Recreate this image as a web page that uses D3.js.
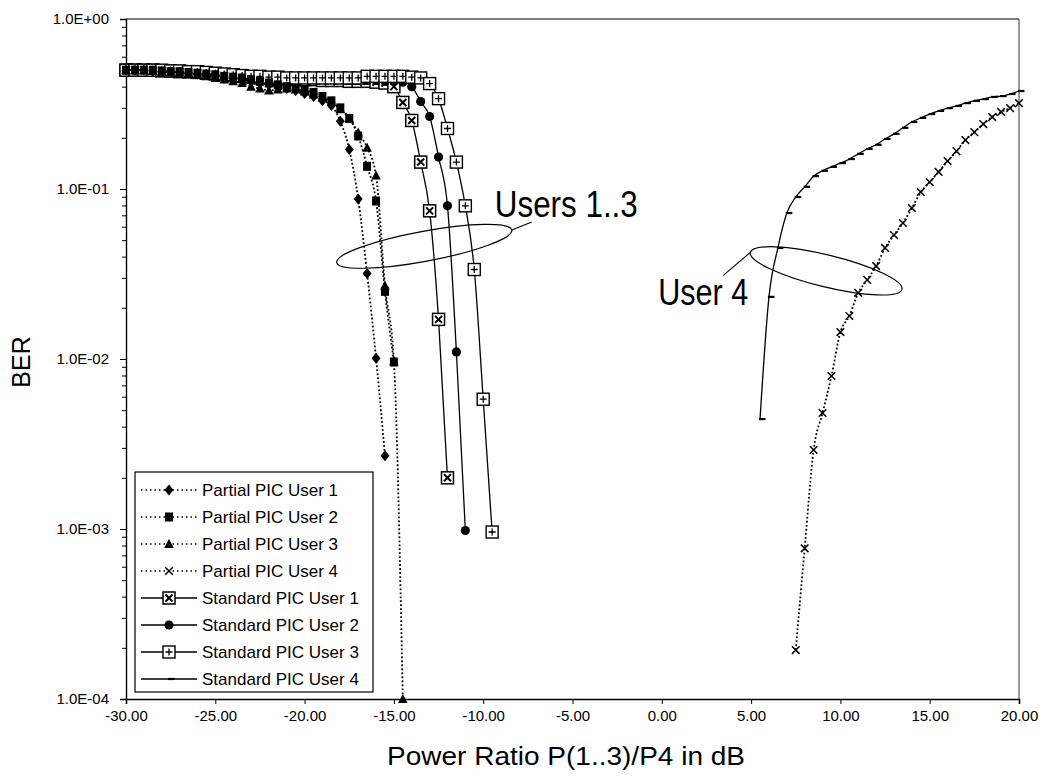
<!DOCTYPE html>
<html>
<head>
<meta charset="utf-8">
<script src="https://cdn.jsdelivr.net/npm/d3@7"></script>
<style>
  html, body { margin: 0; padding: 0; background: #fff; }
  svg { display: block; }
</style>
</head>
<body>
<svg id="chart" width="1046" height="779"></svg>
<script>
// ---------------- data ----------------
const xTicks = [-30, -25, -20, -15, -10, -5, 0, 5, 10, 15, 20];
const xTickLabels = ["-30.00", "-25.00", "-20.00", "-15.00", "-10.00", "-5.00", "0.00", "5.00", "10.00", "15.00", "20.00"];
const yTicks = [1, 0.1, 0.01, 0.001, 0.0001];
const yTickLabels = ["1.0E+00", "1.0E-01", "1.0E-02", "1.0E-03", "1.0E-04"];

const seriesNames = [
  "Partial PIC User 1", "Partial PIC User 2", "Partial PIC User 3", "Partial PIC User 4",
  "Standard PIC User 1", "Standard PIC User 2", "Standard PIC User 3", "Standard PIC User 4"
];

// Partial PIC, users 1..3 (BER vs power ratio in dB)
const partial1X = [-30, -29.5, -29, -28.5, -28, -27.5, -27, -26.5, -26, -25.5, -25, -24.5, -24, -23.5, -23, -22.5, -22, -21.5, -21, -20.5, -20, -19.5, -19, -18.5, -18, -17.5, -17, -16.5, -16, -15.5];
const partial1BER = [0.50, 0.50, 0.50, 0.495, 0.49, 0.49, 0.485, 0.48, 0.475, 0.47, 0.465, 0.455, 0.45, 0.44, 0.43, 0.42, 0.41, 0.40, 0.39, 0.38, 0.365, 0.35, 0.33, 0.31, 0.25, 0.171, 0.0874, 0.0318, 0.0101, 0.0027];

const partial2X = [-30, -29.5, -29, -28.5, -28, -27.5, -27, -26.5, -26, -25.5, -25, -24.5, -24, -23.5, -23, -22.5, -22, -21.5, -21, -20.5, -20, -19.5, -19, -18.5, -18, -17.5, -17, -16.5, -16, -15.5, -15];
const partial2BER = [0.50, 0.50, 0.50, 0.50, 0.495, 0.49, 0.49, 0.485, 0.48, 0.475, 0.47, 0.46, 0.455, 0.45, 0.44, 0.43, 0.42, 0.41, 0.40, 0.39, 0.38, 0.37, 0.35, 0.33, 0.30, 0.26, 0.205, 0.136, 0.085, 0.025, 0.0096];

const partial3X = [-30, -29.5, -29, -28.5, -28, -27.5, -27, -26.5, -26, -25.5, -25, -24.5, -24, -23.5, -23, -22.5, -22, -21.5, -21, -20.5, -20, -19.5, -19, -18.5, -18, -17.5, -17, -16.5, -16, -15.5, -15, -14.5];
const partial3BER = [0.50, 0.50, 0.50, 0.495, 0.49, 0.49, 0.485, 0.48, 0.47, 0.46, 0.45, 0.44, 0.43, 0.42, 0.40, 0.39, 0.38, 0.385, 0.39, 0.385, 0.375, 0.36, 0.345, 0.325, 0.295, 0.26, 0.215, 0.175, 0.12, 0.027, 0.0097, 0.0001];

// Partial PIC, user 4
const partial4X = [7.5, 8, 8.5, 9, 9.5, 10, 10.5, 11, 11.5, 12, 12.5, 13, 13.5, 14, 14.5, 15, 15.5, 16, 16.5, 17, 17.5, 18, 18.5, 19, 19.5, 20];
const partial4BER = [1.94e-4, 7.7e-4, 2.92e-3, 4.81e-3, 7.94e-3, 0.0144, 0.0179, 0.0245, 0.0292, 0.0352, 0.045, 0.0536, 0.0631, 0.0773, 0.096, 0.110, 0.126, 0.146, 0.167, 0.194, 0.216, 0.241, 0.265, 0.284, 0.299, 0.320];

// Standard PIC, users 1..3
const standard1X = [-30, -29.5, -29, -28.5, -28, -27.5, -27, -26.5, -26, -25.5, -25, -24.5, -24, -23.5, -23, -22.5, -22, -21.5, -21, -20.5, -20, -19.5, -19, -18.5, -18, -17.5, -17, -16.5, -16, -15.5, -15, -14.5, -14, -13.5, -13, -12.5, -12];
const standard1BER = [0.50, 0.50, 0.50, 0.50, 0.495, 0.495, 0.49, 0.49, 0.485, 0.48, 0.475, 0.47, 0.465, 0.46, 0.455, 0.45, 0.45, 0.445, 0.445, 0.44, 0.44, 0.44, 0.435, 0.435, 0.435, 0.43, 0.43, 0.43, 0.425, 0.42, 0.40, 0.323, 0.253, 0.144, 0.0744, 0.0171, 0.0020];

const standard2X = [-30, -29.5, -29, -28.5, -28, -27.5, -27, -26.5, -26, -25.5, -25, -24.5, -24, -23.5, -23, -22.5, -22, -21.5, -21, -20.5, -20, -19.5, -19, -18.5, -18, -17.5, -17, -16.5, -16, -15.5, -15, -14.5, -14, -13.5, -13, -12.5, -12, -11.5, -11];
const standard2BER = [0.50, 0.50, 0.50, 0.50, 0.495, 0.495, 0.49, 0.49, 0.485, 0.48, 0.475, 0.47, 0.465, 0.46, 0.455, 0.455, 0.45, 0.45, 0.445, 0.445, 0.445, 0.44, 0.44, 0.44, 0.44, 0.435, 0.435, 0.435, 0.435, 0.43, 0.43, 0.425, 0.40, 0.327, 0.267, 0.154, 0.0796, 0.011, 0.00098];

const standard3X = [-30, -29.5, -29, -28.5, -28, -27.5, -27, -26.5, -26, -25.5, -25, -24.5, -24, -23.5, -23, -22.5, -22, -21.5, -21, -20.5, -20, -19.5, -19, -18.5, -18, -17.5, -17, -16.5, -16, -15.5, -15, -14.5, -14, -13.5, -13, -12.5, -12, -11.5, -11, -10.5, -10, -9.5];
const standard3BER = [0.50, 0.50, 0.50, 0.50, 0.50, 0.495, 0.495, 0.49, 0.49, 0.485, 0.48, 0.475, 0.47, 0.465, 0.46, 0.46, 0.455, 0.455, 0.45, 0.45, 0.45, 0.45, 0.45, 0.45, 0.45, 0.45, 0.45, 0.46, 0.46, 0.46, 0.46, 0.46, 0.455, 0.45, 0.417, 0.34, 0.227, 0.144, 0.0796, 0.0336, 0.0058, 0.00096];

// Standard PIC, user 4
const standard4X = [5.5, 6, 6.5, 7, 7.5, 8, 8.5, 9, 9.5, 10, 10.5, 11, 11.5, 12, 12.5, 13, 13.5, 14, 14.5, 15, 15.5, 16, 16.5, 17, 17.5, 18, 18.5, 19, 19.5, 20];
const standard4BER = [4.43e-3, 0.0232, 0.045, 0.0722, 0.0897, 0.103, 0.119, 0.128, 0.135, 0.142, 0.150, 0.161, 0.172, 0.182, 0.197, 0.211, 0.229, 0.248, 0.262, 0.276, 0.288, 0.299, 0.308, 0.320, 0.330, 0.338, 0.348, 0.352, 0.362, 0.377];

// ---------------- layout ----------------
const svg = d3.select("#chart");
const plot = { left: 126, right: 1019, top: 19, bottom: 699 };

const x = d3.scaleLinear().domain([-30, 20]).range([plot.left, plot.right]);
const y = d3.scaleLog().domain([1e-4, 1]).range([plot.bottom, plot.top]);

const FONT = "'Liberation Sans', Arial, Helvetica, sans-serif";
const NARROW = "'Liberation Sans Narrow', 'Arial Narrow', 'Liberation Sans', Arial, sans-serif";

// series table: values from the arrays above, style by type
const series = [
  { name: seriesNames[0], xs: partial1X, ys: partial1BER, dotted: true, marker: "diamond" },
  { name: seriesNames[1], xs: partial2X, ys: partial2BER, dotted: true, marker: "square" },
  { name: seriesNames[2], xs: partial3X, ys: partial3BER, dotted: true, marker: "triangle" },
  { name: seriesNames[3], xs: partial4X, ys: partial4BER, dotted: true, marker: "cross" },
  { name: seriesNames[4], xs: standard1X, ys: standard1BER, dotted: false, marker: "boxX" },
  { name: seriesNames[5], xs: standard2X, ys: standard2BER, dotted: false, marker: "circle" },
  { name: seriesNames[6], xs: standard3X, ys: standard3BER, dotted: false, marker: "boxPlus" },
  { name: seriesNames[7], xs: standard4X, ys: standard4BER, dotted: false, marker: "dash" }
].map(s => ({ ...s, points: s.xs.map((v, i) => ({ x: v, y: s.ys[i] })) }));

// ---------------- frame and axes ----------------
svg.append("line")
  .attr("x1", plot.left).attr("x2", plot.right)
  .attr("y1", plot.top).attr("y2", plot.top)
  .attr("stroke", "#555").attr("stroke-width", 1.4);
svg.append("line")
  .attr("x1", plot.right).attr("x2", plot.right)
  .attr("y1", plot.top).attr("y2", plot.bottom)
  .attr("stroke", "#333").attr("stroke-width", 1);

// y axis: decades with labels, minor ticks 2..9
const minorTicks = [];
for (let k = -4; k < 0; k++) for (let m = 2; m <= 9; m++) minorTicks.push(m * Math.pow(10, k));

const yMinor = svg.append("g").attr("transform", `translate(${plot.left},0)`)
  .call(d3.axisLeft(y).tickValues(minorTicks).tickSize(4).tickFormat(""));
yMinor.select(".domain").remove();
yMinor.selectAll("line").attr("stroke", "#000").attr("stroke-width", 1);

const yAxis = svg.append("g").attr("transform", `translate(${plot.left},0)`)
  .call(d3.axisLeft(y).tickValues(yTicks).tickSize(6).tickPadding(11)
    .tickFormat((d, i) => yTickLabels[i]));
yAxis.select(".domain").attr("stroke", "#000").attr("stroke-width", 1.4);
yAxis.selectAll("line").attr("stroke", "#000").attr("stroke-width", 1);
yAxis.selectAll("text").attr("font-family", FONT).attr("font-size", 15).attr("fill", "#000");

// x axis
const xAxis = svg.append("g").attr("transform", `translate(0,${plot.bottom})`)
  .call(d3.axisBottom(x).tickValues(xTicks).tickSize(5).tickPadding(6)
    .tickFormat((d, i) => xTickLabels[i]));
xAxis.select(".domain").attr("stroke", "#000").attr("stroke-width", 1.6);
xAxis.selectAll("line").attr("stroke", "#000").attr("stroke-width", 1);
xAxis.selectAll("text").attr("font-family", NARROW).attr("font-size", 15).attr("fill", "#000");

// axis titles
svg.append("text")
  .attr("x", 566).attr("y", 765)
  .attr("text-anchor", "middle")
  .attr("font-family", NARROW).attr("font-size", 25)
  .attr("textLength", 358).attr("lengthAdjust", "spacingAndGlyphs")
  .text("Power Ratio P(1..3)/P4 in dB");

svg.append("text")
  .attr("transform", "translate(30,362) rotate(-90)")
  .attr("text-anchor", "middle")
  .attr("font-family", FONT).attr("font-size", 25)
  .text("BER");

// ---------------- markers ----------------
function drawMarker(g, type) {
  switch (type) {
    case "diamond":
      g.append("path").attr("d", "M0,-5.5L4.5,0L0,5.5L-4.5,0Z").attr("fill", "#000");
      break;
    case "square":
      g.append("rect").attr("x", -4).attr("y", -4.5).attr("width", 8).attr("height", 9).attr("fill", "#000");
      break;
    case "triangle":
      g.append("path").attr("d", "M0,-5L4.8,4L-4.8,4Z").attr("fill", "#000");
      break;
    case "cross":
      g.append("path").attr("d", "M-3.8,-3.8L3.8,3.8M-3.8,3.8L3.8,-3.8")
        .attr("stroke", "#000").attr("stroke-width", 1.5).attr("fill", "none");
      break;
    case "boxX":
      g.append("rect").attr("x", -6).attr("y", -6).attr("width", 12).attr("height", 12)
        .attr("fill", "#fff").attr("stroke", "#000").attr("stroke-width", 1.5);
      g.append("path").attr("d", "M-3.5,-3.5L3.5,3.5M-3.5,3.5L3.5,-3.5")
        .attr("stroke", "#000").attr("stroke-width", 2);
      break;
    case "circle":
      g.append("circle").attr("r", 4.6).attr("fill", "#000");
      break;
    case "boxPlus":
      g.append("rect").attr("x", -6).attr("y", -6).attr("width", 12).attr("height", 12)
        .attr("fill", "#fff").attr("stroke", "#000").attr("stroke-width", 1.4);
      g.append("path").attr("d", "M-3.5,0L3.5,0M0,-3.5L0,3.5")
        .attr("stroke", "#000").attr("stroke-width", 1.3);
      break;
    case "dash":
      g.append("path").attr("d", "M-1,0L5.5,0").attr("stroke", "#000").attr("stroke-width", 2.2);
      break;
  }
}

// ---------------- series ----------------
const line = d3.line()
  .x(d => x(d.x))
  .y(d => y(d.y))
  .curve(d3.curveMonotoneX);

// standard PIC curves underneath, partial PIC curves on top
const drawOrder = [4, 5, 6, 7, 0, 1, 2, 3];
const seriesG = svg.append("g");
drawOrder.map(i => series[i]).forEach(s => {
  const g = seriesG.append("g");
  g.append("path")
    .datum(s.points)
    .attr("d", line)
    .attr("fill", "none")
    .attr("stroke", "#000")
    .attr("stroke-width", s.dotted ? 1.8 : 1.3)
    .attr("stroke-dasharray", s.dotted ? "1.8,2.2" : null);
  g.selectAll("g.pt")
    .data(s.points)
    .join("g")
    .attr("class", "pt")
    .attr("transform", d => `translate(${x(d.x)},${y(d.y)})`)
    .each(function () { drawMarker(d3.select(this), s.marker); });
});

// ---------------- annotations ----------------
function annotate(cfg) {
  const cx = x(cfg.cx), cy = y(cfg.cy);
  svg.append("ellipse")
    .attr("cx", 0).attr("cy", 0).attr("rx", cfg.rx).attr("ry", cfg.ry)
    .attr("transform", `translate(${cx},${cy}) rotate(${cfg.angle})`)
    .attr("fill", "none").attr("stroke", "#000").attr("stroke-width", 1.2);
  const a = cfg.angle * Math.PI / 180;
  const ex = cx + cfg.side * cfg.rx * Math.cos(a), ey = cy + cfg.side * cfg.rx * Math.sin(a);
  svg.append("line")
    .attr("x1", ex).attr("y1", ey)
    .attr("x2", ex + cfg.lead[0]).attr("y2", ey + cfg.lead[1])
    .attr("stroke", "#000").attr("stroke-width", 1.1);
  svg.append("text")
    .attr("x", x(cfg.tx)).attr("y", y(cfg.ty))
    .attr("font-family", FONT).attr("font-size", 36)
    .attr("textLength", cfg.tw).attr("lengthAdjust", "spacingAndGlyphs")
    .text(cfg.label);
}

annotate({ label: "Users 1..3", cx: -13.3, cy: 0.046, rx: 89, ry: 15, angle: -10.5,
           side: 1, lead: [20, -8], tx: -9.35, ty: 0.068, tw: 143 });
annotate({ label: "User 4", cx: 9.2, cy: 0.033, rx: 78, ry: 16, angle: 13.7,
           side: -1, lead: [-27, 23], tx: -0.2, ty: 0.0208, tw: 90 });

// ---------------- legend ----------------
const legend = svg.append("g").attr("transform", "translate(135,472)");
legend.append("rect")
  .attr("width", 238).attr("height", 220)
  .attr("fill", "#fff").attr("stroke", "#000").attr("stroke-width", 1.2);
series.forEach((s, i) => {
  const row = legend.append("g").attr("transform", `translate(0,${18 + i * 27})`);
  row.append("line")
    .attr("x1", 6).attr("x2", 62).attr("y1", 0).attr("y2", 0)
    .attr("stroke", "#000")
    .attr("stroke-width", s.dotted ? 1.4 : 1.3)
    .attr("stroke-dasharray", s.dotted ? "1.5,3" : null);
  drawMarker(row.append("g").attr("transform", "translate(34,0)"), s.marker);
  row.append("text")
    .attr("x", 67).attr("y", 6)
    .attr("font-family", FONT).attr("font-size", 17)
    .text(s.name);
});
</script>
</body>
</html>
